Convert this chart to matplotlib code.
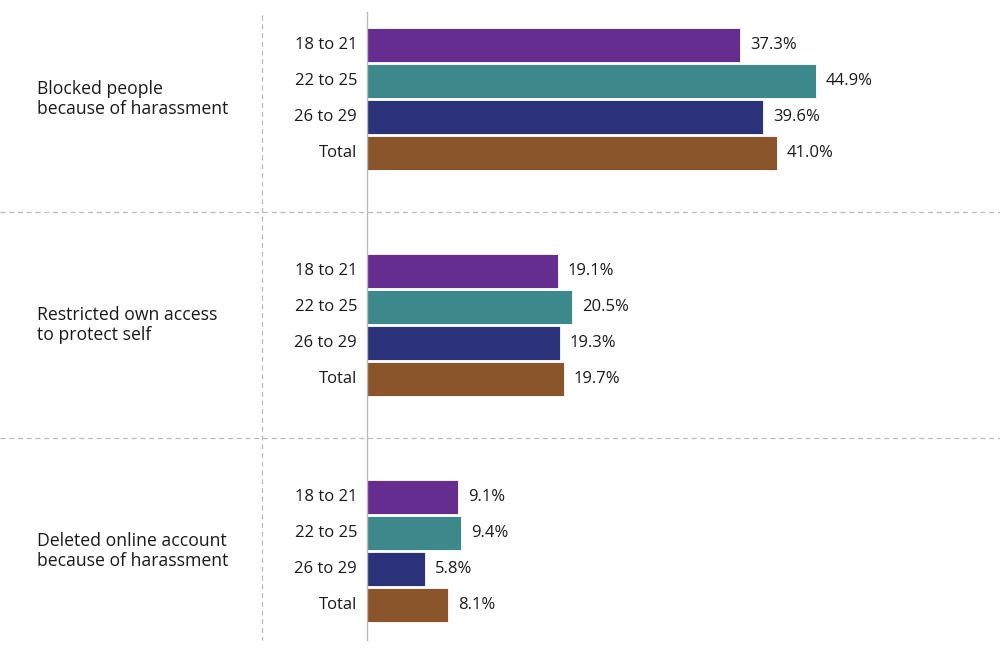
import matplotlib.pyplot as plt
import matplotlib as mpl

mpl.rcParams['font.family'] = 'Open Sans'
mpl.rcParams['font.size'] = 12

groups = ['Blocked people\nbecause of harassment',
          'Restricted own access\nto protect self',
          'Deleted online account\nbecause of harassment']
ages = ['18 to 21', '22 to 25', '26 to 29', 'Total']
values = [
    [37.3, 44.9, 39.6, 41.0],
    [19.1, 20.5, 19.3, 19.7],
    [9.1, 9.4, 5.8, 8.1],
]
colors = ['#652d8f', '#3d888b', '#2b3279', '#8b552b']

# layout in "bar pitch" units (1 unit ~ 36px), x in percent (1% ~ 10px)
group_step = 226 / 36
bar_h = 0.92
fig = plt.figure(figsize=(10, 6.56), dpi=100)
ax = fig.add_axes([0, 0, 1, 1])
ax.set_xlim(-36.7, 63.3)
ax.set_ylim((656 - 45) / 36, -45 / 36)
ax.axis('off')

for g, (grp, vals) in enumerate(zip(groups, values)):
    base = g * group_step
    for i, (age, v) in enumerate(zip(ages, vals)):
        y = base + i
        ax.barh(y, v, height=bar_h, color=colors[i], edgecolor='white', linewidth=0.6)
        ax.text(-1.0, y, age, ha='right', va='center', color='#1a1a1a')
        ax.text(v + 1.0, y, f'{v:.1f}%', ha='left', va='center', color='#1a1a1a')
    ax.text(-33.0, base + 1.5, grp, ha='left', va='center', color='#1a1a1a',
            fontsize=12.7, linespacing=1.15)

# dashed separators halfway between groups
for g in range(1, len(groups)):
    prev_end = (g - 1) * group_step + len(ages) - 1 + bar_h / 2
    next_start = g * group_step - bar_h / 2
    ysep = (prev_end + next_start) / 2
    ax.plot([-36.7, 63.3], [ysep, ysep], color='#bbbbbb', lw=0.9,
            ls=(0, (4, 3)), clip_on=False)

top = (12 - 45) / 36
bottom = (640 - 45) / 36
ax.plot([0, 0], [top, bottom], color='#bbbbbb', lw=1.0)
ax.plot([-10.5, -10.5], [(15 - 45) / 36, bottom], color='#bbbbbb', lw=0.9,
        ls=(0, (4, 3)))

fig.savefig('out.png', dpi=100)
